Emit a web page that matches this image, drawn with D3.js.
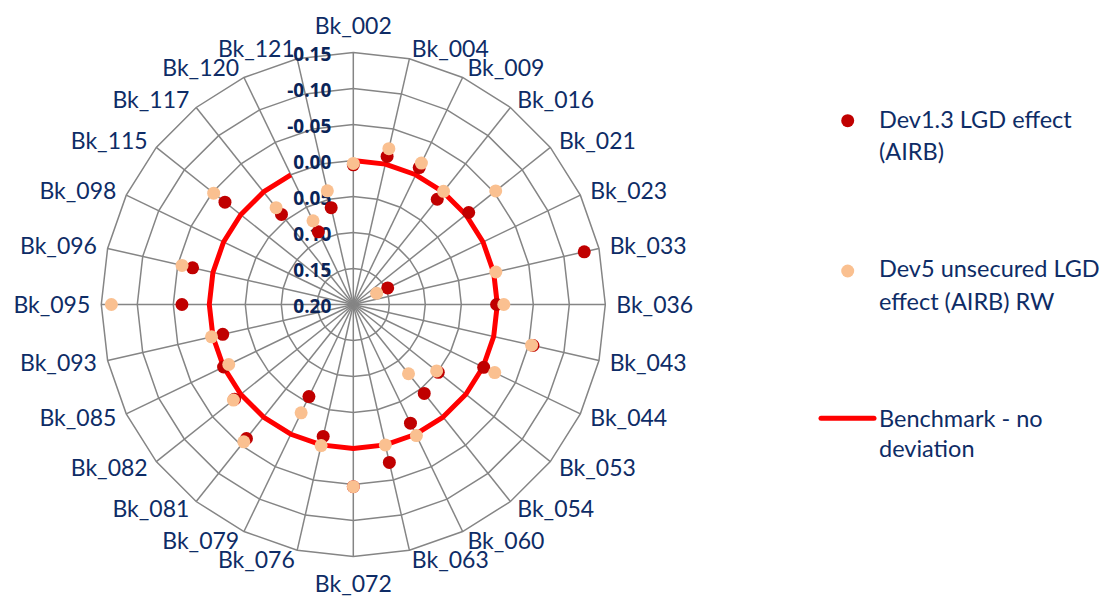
<!DOCTYPE html>
<html><head><meta charset="utf-8">
<script src="https://cdn.jsdelivr.net/npm/d3@7"></script>
<style>body{margin:0;background:#fff;} svg{display:block;}</style>
</head><body>
<svg id="chart" width="1113" height="601"></svg>
<script>
const categories = ["Bk_002","Bk_004","Bk_009","Bk_016","Bk_021","Bk_023","Bk_033","Bk_036","Bk_043","Bk_044","Bk_053","Bk_054","Bk_060","Bk_063","Bk_072","Bk_076","Bk_079","Bk_081","Bk_082","Bk_085","Bk_093","Bk_095","Bk_096","Bk_098","Bk_115","Bk_117","Bk_120","Bk_121"];
const dev13 = [0.006,-0.011,-0.011,0.013,-0.005,0.147,-0.129,0.001,-0.056,-0.001,0.049,0.042,0.017,-0.025,-0.053,0.012,0.058,-0.038,-0.011,0.000,0.014,-0.038,-0.029,null,-0.028,0.040,0.088,0.062];
const dev5 = [0.004,-0.022,-0.018,-0.001,-0.053,0.164,-0.003,-0.009,-0.054,-0.018,0.052,0.077,-0.002,0.000,-0.053,-0.001,0.033,-0.044,-0.013,0.008,-0.002,-0.136,-0.044,null,-0.048,0.028,0.071,0.038];
const benchmark = [0,0,0,0,0,0,0,0,0,0,0,0,0,0,0,0,0,0,0,0,0,0,0,0,0,0,0,null];
const tickValues = [0.20,0.15,0.10,0.05,0.00,-0.05,-0.10,-0.15];
const tickLabels = ["0.20","0.15","0.10","0.05","0.00","-0.05","-0.10","-0.15"];
const legendLines = [["Dev1.3 LGD effect","(AIRB)"],["Dev5 unsecured LGD","effect (AIRB) RW"],["Benchmark - no","deviation"]];

const textColor = "#0e2c66", tickColor = "#0a2458", gridColor = "#858585";
const colDev13 = "#c00000", colDev5 = "#fac090", colBench = "#ff0000";
const fontFam = "Lato, 'Open Sans', sans-serif";

const svg = d3.select("#chart");
const cx = 353.3, cy = 304.5, R = 252;
const n = categories.length;
const rScale = d3.scaleLinear().domain([0.20, -0.15]).range([0, R]);
const aScale = d3.scaleLinear().domain([0, n]).range([0, 2 * Math.PI]);
const g = svg.append("g").attr("transform", `translate(${cx},${cy})`);

// rings
const ringLine = d3.lineRadial().angle((d, i) => aScale(i)).radius(d => rScale(d)).curve(d3.curveLinearClosed);
tickValues.slice(1).forEach(v => {
  g.append("path").attr("d", ringLine(categories.map(() => v)))
    .attr("fill", "none").attr("stroke", gridColor).attr("stroke-width", 1.5);
});
// spokes
g.selectAll("line.spoke").data(categories).join("line")
  .attr("x1", 0).attr("y1", 0)
  .attr("x2", (d, i) => R * Math.sin(aScale(i)))
  .attr("y2", (d, i) => -R * Math.cos(aScale(i)))
  .attr("stroke", gridColor).attr("stroke-width", 1.5);

// category labels
g.selectAll("text.cat").data(categories).join("text")
  .each(function(d, i) {
    const a = aScale(i), s = Math.sin(a), c = Math.cos(a);
    const vx = R * s, vy = -R * c;
    const t = d3.select(this);
    if (Math.abs(s) < 0.01) {
      t.attr("x", vx).attr("y", vy + (c > 0 ? -27 : 27) + 8).attr("text-anchor", "middle");
    } else {
      t.attr("x", vx + 11 * s).attr("y", vy - 10 * c + 8).attr("text-anchor", s > 0 ? "start" : "end");
    }
  })
  .attr("font-family", fontFam).attr("font-size", 23).attr("fill", textColor)
  .text(d => d);

// tick labels
g.selectAll("text.tick").data(tickValues).join("text")
  .attr("x", -22).attr("y", d => -rScale(d) + 8)
  .attr("text-anchor", "end")
  .attr("font-family", "'Open Sans', sans-serif").attr("font-weight", "bold").attr("font-size", 19)
  .attr("fill", tickColor)
  .text((d, i) => tickLabels[i]);

// benchmark line
const benchLine = d3.lineRadial().defined(d => d != null).angle((d, i) => aScale(i)).radius(d => rScale(d));
g.append("path").attr("d", benchLine(benchmark))
  .attr("fill", "none").attr("stroke", colBench).attr("stroke-width", 5).attr("stroke-linejoin", "round");

function dots(values, color) {
  g.append("g").selectAll("circle").data(values.map((v, i) => ({v, i})).filter(d => d.v != null)).join("circle")
    .attr("cx", d => rScale(d.v) * Math.sin(aScale(d.i)))
    .attr("cy", d => -rScale(d.v) * Math.cos(aScale(d.i)))
    .attr("r", 6.5).attr("fill", color);
}
dots(dev13, colDev13);
dots(dev5, colDev5);

// legend
const lg = svg.append("g");
lg.append("circle").attr("cx", 847.7).attr("cy", 120.7).attr("r", 6.5).attr("fill", colDev13);
lg.append("circle").attr("cx", 847.7).attr("cy", 271).attr("r", 6.5).attr("fill", colDev5);
lg.append("line").attr("x1", 821).attr("x2", 874).attr("y1", 418.3).attr("y2", 418.3)
  .attr("stroke", colBench).attr("stroke-width", 5).attr("stroke-linecap", "round");
const baselines = [[128, 160], [277, 310], [427, 457]];
legendLines.forEach((lines, k) => {
  lines.forEach((txt, j) => {
    lg.append("text").attr("x", 879).attr("y", baselines[k][j])
      .attr("font-family", fontFam).attr("font-size", 23.5).attr("fill", textColor).text(txt);
  });
});
</script>
</body></html>
